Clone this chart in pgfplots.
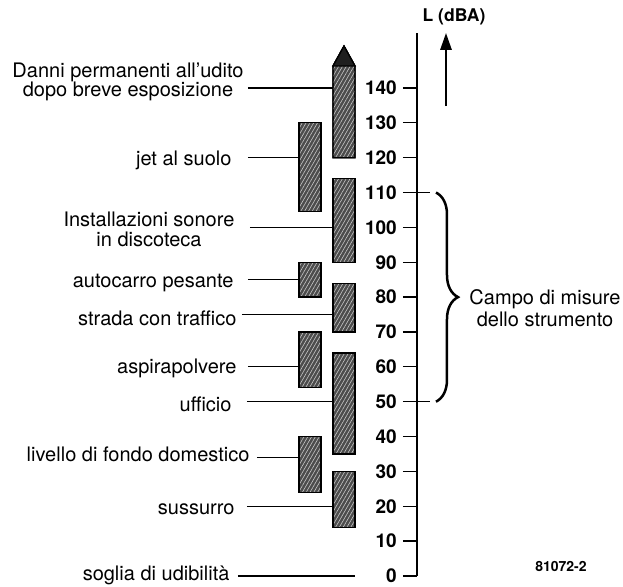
\documentclass[border=0pt]{standalone}
\usepackage{fontspec}
\setmainfont{TeX Gyre Heros}
\usepackage{pgfplots}
\pgfplotsset{compat=1.18}
\usetikzlibrary{patterns.meta,decorations.pathreplacing,arrows.meta}
\newcommand{\lbl}{\fontsize{20bp}{24bp}\selectfont}
\tikzset{lab/.style={font=\lbl, yshift=-4.5bp}}
\pgfplotsset{
  barstyle/.style={draw=black, line width=1.3bp, fill=black!70,
    postaction={pattern={Lines[angle=60,distance=3.3bp,line width=0.6bp]}, pattern color=white!78!black}},
  leader/.style={draw=black, line width=1.3bp},
}
\begin{document}
\begin{tikzpicture}
\begin{axis}[
  x=1bp, y=3.486bp,
  xmin=0, xmax=206, ymin=0, ymax=155.8,
  axis y line*=left, axis x line=none,
  clip=false,
  ytick={0,10,...,140}, xtick=\empty,
  tick align=outside, ytick pos=left,
  major tick length=14bp,
  tick style={line width=1.3bp, black},
  axis line style={line width=2bp, black},
  /pgf/number format/assume math mode=true,
  yticklabel style={font=\bfseries\fontsize{19bp}{19bp}\selectfont, inner sep=0pt, anchor=east},
  yticklabel={\bfseries\fontsize{19bp}{19bp}\selectfont\pgfmathprintnumber{\tick}},
  yticklabel shift=6bp,
  every axis plot/.append style={mark=none},
]
% invisible frame for page size
\coordinate (bl) at (axis cs:-417,-3.155);
\coordinate (tr) at (axis cs:206,165.23);

% left column bars
\addplot[barstyle] coordinates {(-118,104.5) (-96,104.5) (-96,130) (-118,130)} -- cycle;
\addplot[barstyle] coordinates {(-118,80) (-96,80) (-96,90) (-118,90)} -- cycle;
\addplot[barstyle] coordinates {(-118,54) (-96,54) (-96,70) (-118,70)} -- cycle;
\addplot[barstyle] coordinates {(-118,24) (-96,24) (-96,40) (-118,40)} -- cycle;
% right column bars
\addplot[barstyle] coordinates {(-84,120) (-62,120) (-62,146.3) (-73,152) (-84,146.3)} -- cycle;
\addplot[draw=black, fill=black!88, line width=1.3bp] coordinates {(-84,146.3) (-73,152) (-62,146.3)} -- cycle;
\addplot[barstyle] coordinates {(-84,90) (-62,90) (-62,114) (-84,114)} -- cycle;
\addplot[barstyle] coordinates {(-84,70) (-62,70) (-62,84) (-84,84)} -- cycle;
\addplot[barstyle] coordinates {(-84,35) (-62,35) (-62,64) (-84,64)} -- cycle;
\addplot[barstyle] coordinates {(-84,14) (-62,14) (-62,30) (-84,30)} -- cycle;

% leader lines
\addplot[leader] coordinates {(-169,140) (-84,140)};
\addplot[leader] coordinates {(-169,120) (-118,120)};
\addplot[leader] coordinates {(-167,100) (-84,100)};
\addplot[leader] coordinates {(-169,85) (-118,85)};
\addplot[leader] coordinates {(-175,75) (-84,75)};
\addplot[leader] coordinates {(-169,60) (-118,60)};
\addplot[leader] coordinates {(-170,50) (-84,50)};
\addplot[leader] coordinates {(-160,34) (-118,34)};
\addplot[leader] coordinates {(-170,20) (-84,20)};
\addplot[leader] coordinates {(-179,0) (-62,0)};

% range marks and brace
\addplot[leader] coordinates {(0,110) (13,110)};
\addplot[leader] coordinates {(0,50) (13,50)};
\draw[line width=2.5bp, decorate, decoration={brace, amplitude=22bp, aspect=0.5}] (axis cs:19,110) -- (axis cs:19,50);

% arrow
\addplot[line width=2.7bp, -{Triangle[length=17bp,width=11bp]}] coordinates {(29,134.8) (29,155.8)};

% labels
\node[lab, anchor=mid] at (axis cs:-289,144.9) {Danni permanenti all'udito};
\node[lab, anchor=mid] at (axis cs:-289,139.7) {dopo breve esposizione};
\node[lab, anchor=mid east] at (axis cs:-182,119.9) {jet al suolo};
\node[lab, anchor=mid] at (axis cs:-268,102.4) {Installazioni sonore};
\node[lab, anchor=mid] at (axis cs:-268,96.7) {in discoteca};
\node[lab, anchor=mid east] at (axis cs:-180,84.9) {autocarro pesante};
\node[lab, anchor=mid east] at (axis cs:-177,74.0) {strada con traffico};
\node[lab, anchor=mid east] at (axis cs:-177,60.0) {aspirapolvere};
\node[lab, anchor=mid east] at (axis cs:-182,49.1) {ufficio};
\node[lab, anchor=mid east] at (axis cs:-164,35.0) {livello di fondo domestico};
\node[lab, anchor=mid east] at (axis cs:-179,19.8) {sussurro};
\node[font=\lbl, anchor=mid east, yshift=-1bp] at (axis cs:-184,-0.3) {soglia di udibilità};

\node[lab, anchor=mid] at (axis cs:128,80.0) {Campo di misure};
\node[lab, anchor=mid] at (axis cs:128,73.7) {dello strumento};

\node[anchor=mid, font=\bfseries\fontsize{17.5bp}{20bp}\selectfont] at (axis cs:37,159.8) {L (dBA)};
\node[anchor=mid, font=\bfseries\fontsize{14bp}{16bp}\selectfont] at (axis cs:144,2.0) {81072-2};
\end{axis}
\pgfresetboundingbox
\path[use as bounding box] (bl) rectangle (tr);
\end{tikzpicture}
\end{document}
